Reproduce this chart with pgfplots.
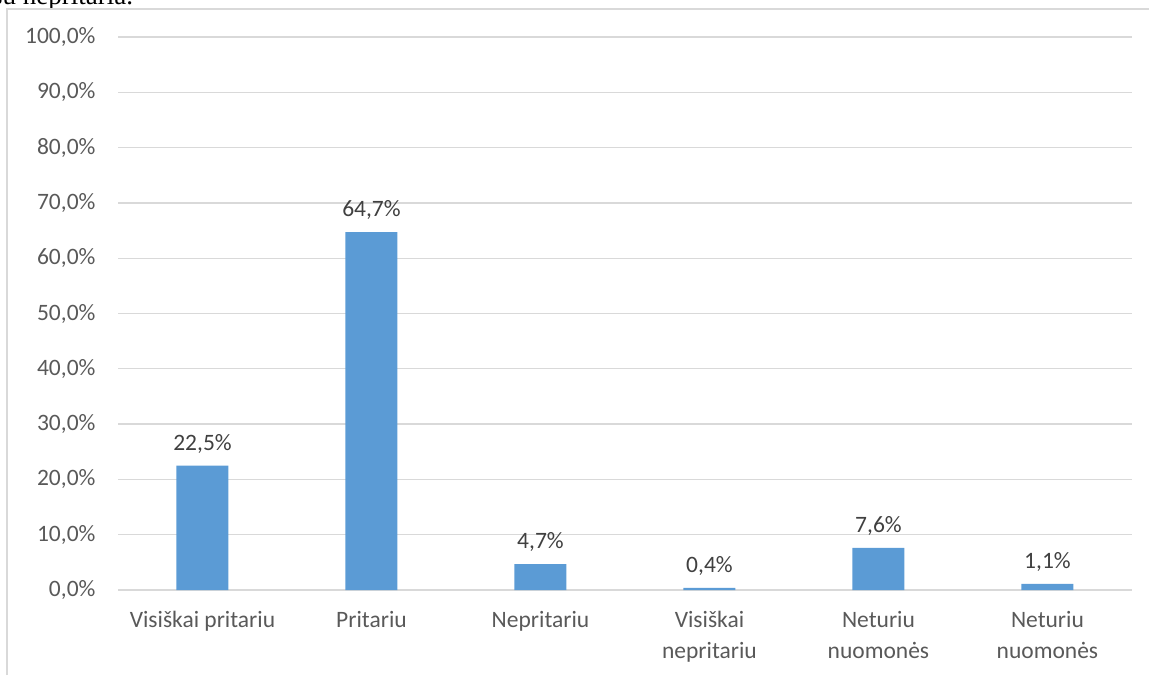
\documentclass[border=0pt]{standalone}
\usepackage{pgfplots}
\pgfplotsset{compat=1.18}
\usepackage{fontspec}
\setmainfont{Carlito}
\newfontfamily\seriffont{Liberation Serif}
\definecolor{barblue}{HTML}{5B9BD5}
\definecolor{gridgray}{HTML}{D9D9D9}
\definecolor{txtgray}{HTML}{595959}
\definecolor{lblgray}{HTML}{404040}
\definecolor{framegray}{HTML}{D9D9D9}
\begin{document}
\begin{tikzpicture}[x=1pt,y=1pt]
\path[use as bounding box] (0pt,0pt) rectangle (1149pt,675pt);
\begin{scope}
\clip (0pt,666pt) rectangle (400pt,675pt);
\node[anchor=base west, inner sep=0pt, font=\seriffont\fontsize{27}{27}\selectfont] at (-8pt,670pt) {su nepritaria.};
\end{scope}
\draw[color=framegray, line width=1.2pt] (7pt,0pt) -- (7pt,666pt) -- (1149pt,666pt);
\begin{axis}[
  at={(118pt,85pt)}, anchor=south west,
  scale only axis, width=1014pt, height=553pt,
  xmin=-0.5, xmax=5.5, ymin=0, ymax=100,
  ybar, bar width=52pt,
  axis line style={draw=none},
  major tick length=0pt,
  ymajorgrids, major grid style={color=gridgray, line width=1.3pt},
  ytick={0,10,...,100},
  yticklabels={{0,0\%},{10,0\%},{20,0\%},{30,0\%},{40,0\%},{50,0\%},{60,0\%},{70,0\%},{80,0\%},{90,0\%},{100,0\%}},
  yticklabel style={font=\fontsize{23.5}{28}\selectfont, text=txtgray, xshift=-19pt},
  xtick={0,1,2,3,4,5},
  xticklabels={Visiškai pritariu, Pritariu, Nepritariu, {Visiškai\\nepritariu}, {Neturiu\\nuomonės}, {Neturiu\\nuomonės}},
  xticklabel style={font=\fontsize{23.5}{31}\selectfont, text=txtgray, align=center, yshift=-18pt, anchor=north},
  point meta=explicit symbolic,
  nodes near coords,
  nodes near coords style={font=\fontsize{23.5}{28}\selectfont, text=lblgray, yshift=9pt},
]
\addplot[fill=barblue, draw=none] table[meta=lab] {
x y lab
0 22.5 {22,5\%}
1 64.7 {64,7\%}
2 4.7 {4,7\%}
3 0.4 {0,4\%}
4 7.6 {7,6\%}
5 1.1 {1,1\%}
};
\end{axis}
\end{tikzpicture}
\end{document}
